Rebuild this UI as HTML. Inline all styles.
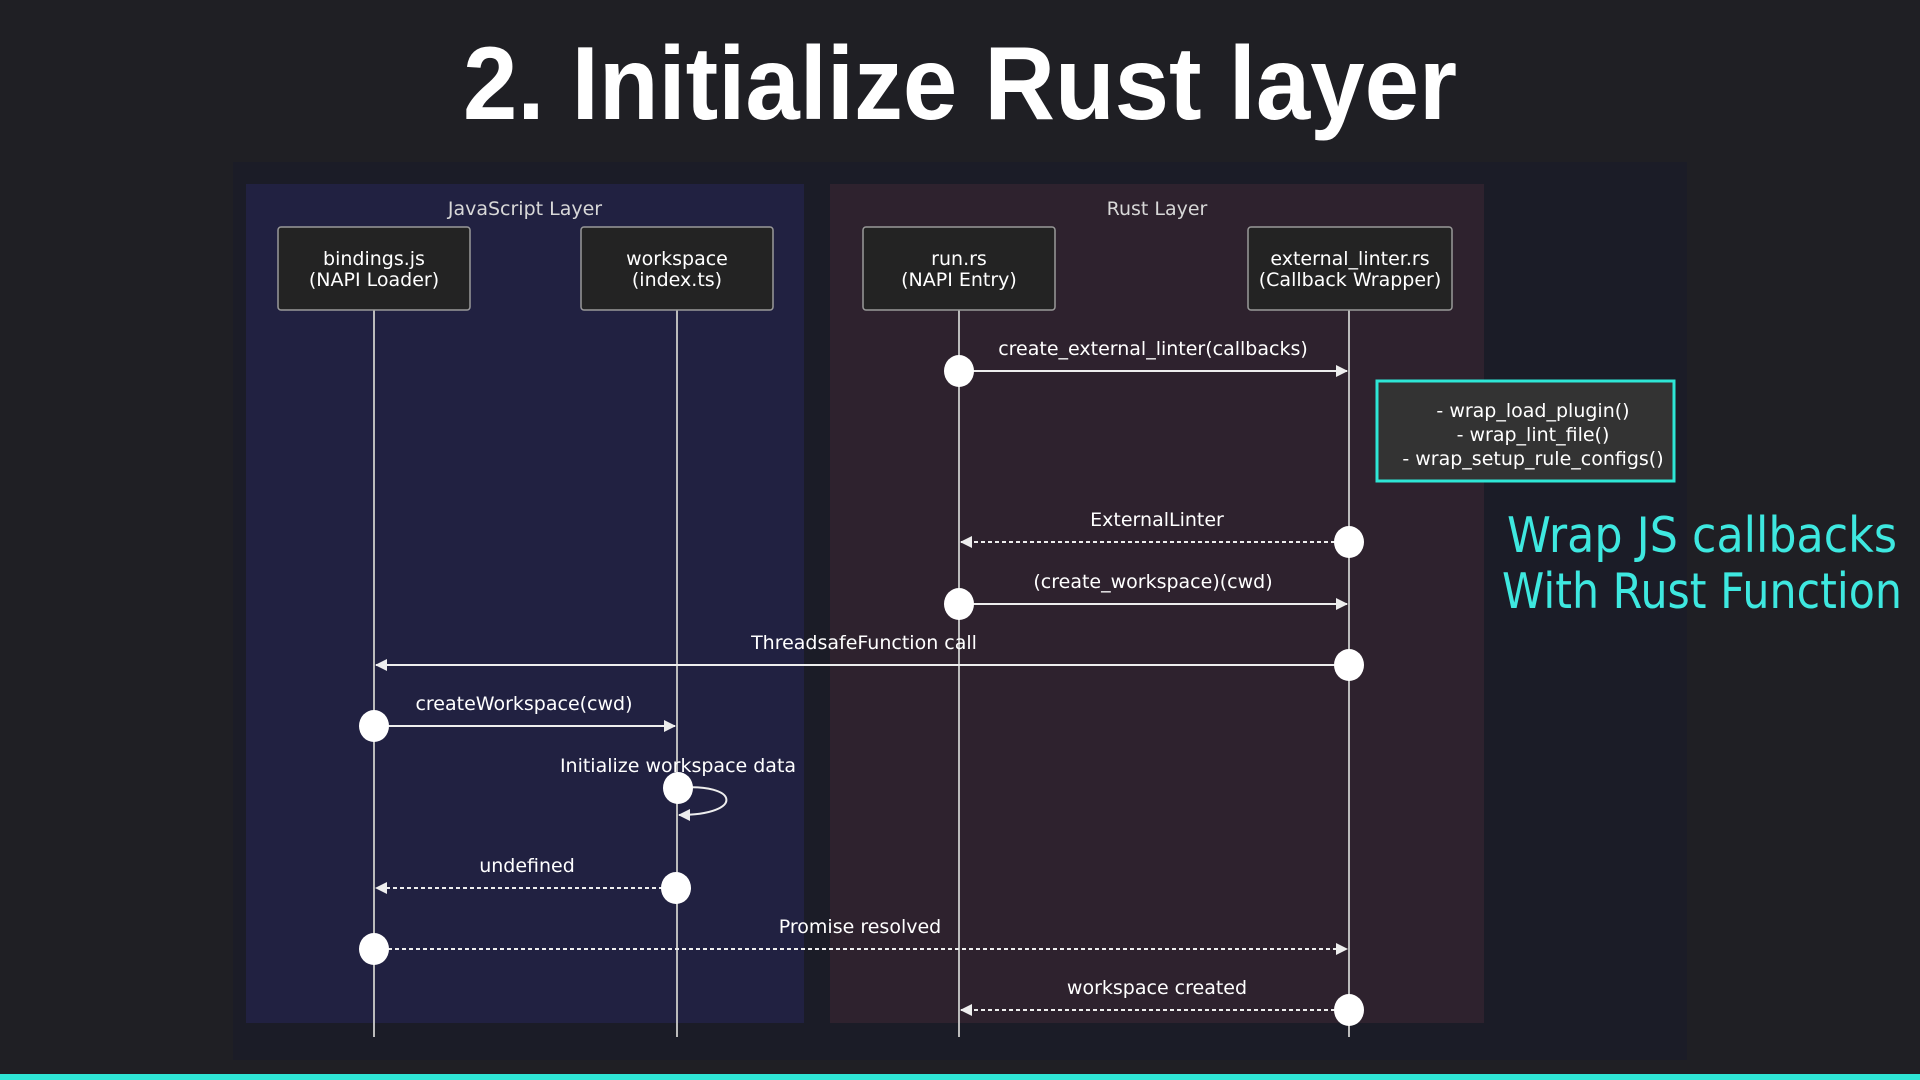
<!DOCTYPE html>
<html><head><meta charset="utf-8"><style>
html,body{margin:0;padding:0;background:#1f1f24;width:1920px;height:1080px;overflow:hidden}
svg{display:block}
text{font-family:"DejaVu Sans","Liberation Sans",sans-serif}
</style></head><body>
<svg width="1920" height="1080" viewBox="0 0 1920 1080" xmlns="http://www.w3.org/2000/svg">
<defs>
<marker id="ah" markerWidth="12" markerHeight="12" refX="11" refY="6" orient="auto" markerUnits="userSpaceOnUse">
<path d="M0,0 L12,6 L0,12 z" fill="#eeeeee"/></marker>
</defs>
<rect width="1920" height="1080" fill="#1f1f24"/>
<text x="960" y="119" text-anchor="middle" font-family="Liberation Sans, sans-serif" font-weight="bold" font-size="104" fill="#ffffff" textLength="994" lengthAdjust="spacingAndGlyphs" style="font-family:'Liberation Sans',sans-serif">2. Initialize Rust layer</text>
<rect x="233" y="162" width="1454" height="898" fill="#1b1c27"/>
<rect x="246" y="184" width="558" height="839" fill="#212141"/>
<rect x="830" y="184" width="654" height="839" fill="#2e222e"/>
<g font-size="19" fill="#d8d8d8" text-anchor="middle">
<text x="525" y="215">JavaScript Layer</text>
<text x="1157" y="215">Rust Layer</text>
</g>
<g stroke="#bbbbbb" stroke-width="2">
<line x1="374" y1="310" x2="374" y2="1037"/>
<line x1="677" y1="310" x2="677" y2="1037"/>
<line x1="959" y1="310" x2="959" y2="1037"/>
<line x1="1349" y1="310" x2="1349" y2="1037"/>
</g>
<g fill="#232323" stroke="#999" stroke-width="1.5">
<rect x="278" y="227" width="192" height="83" rx="3"/>
<rect x="581" y="227" width="192" height="83" rx="3"/>
<rect x="863" y="227" width="192" height="83" rx="3"/>
<rect x="1248" y="227" width="204" height="83" rx="3"/>
</g>
<g font-size="19" fill="#ffffff" text-anchor="middle">
<text x="374" y="265">bindings.js</text><text x="374" y="286">(NAPI Loader)</text>
<text x="677" y="265">workspace</text><text x="677" y="286">(index.ts)</text>
<text x="959" y="265">run.rs</text><text x="959" y="286">(NAPI Entry)</text>
<text x="1350" y="265">external_linter.rs</text><text x="1350" y="286">(Callback Wrapper)</text>
</g>
<g stroke="#eeeeee" stroke-width="2" fill="none">
<line x1="959" y1="371" x2="1347" y2="371" marker-end="url(#ah)"/>
<line x1="1349" y1="542" x2="961" y2="542" stroke-dasharray="4,3" marker-end="url(#ah)"/>
<line x1="959" y1="604" x2="1347" y2="604" marker-end="url(#ah)"/>
<line x1="1349" y1="665" x2="376" y2="665" marker-end="url(#ah)"/>
<line x1="374" y1="726" x2="675" y2="726" marker-end="url(#ah)"/>
<path d="M677,788 C740,782 745,815 679,815" marker-end="url(#ah)"/>
<line x1="677" y1="888" x2="376" y2="888" stroke-dasharray="4,3" marker-end="url(#ah)"/>
<line x1="374" y1="949" x2="1347" y2="949" stroke-dasharray="4,3" marker-end="url(#ah)"/>
<line x1="1349" y1="1010" x2="961" y2="1010" stroke-dasharray="4,3" marker-end="url(#ah)"/>
</g>
<g fill="#ffffff">
<ellipse cx="959" cy="371" rx="15" ry="16"/>
<ellipse cx="1349" cy="542" rx="15" ry="16"/>
<ellipse cx="959" cy="604" rx="15" ry="16"/>
<ellipse cx="1349" cy="665" rx="15" ry="16"/>
<ellipse cx="374" cy="726" rx="15" ry="16"/>
<ellipse cx="678" cy="788" rx="15" ry="16"/>
<ellipse cx="676" cy="888" rx="15" ry="16"/>
<ellipse cx="374" cy="949" rx="15" ry="16"/>
<ellipse cx="1349" cy="1010" rx="15" ry="16"/>
</g>
<g font-size="19" fill="#ffffff" text-anchor="middle">
<text x="1153" y="355">create_external_linter(callbacks)</text>
<text x="1157" y="526">ExternalLinter</text>
<text x="1153" y="588">(create_workspace)(cwd)</text>
<text x="864" y="649">ThreadsafeFunction call</text>
<text x="524" y="710">createWorkspace(cwd)</text>
<text x="678" y="772">Initialize workspace data</text>
<text x="527" y="872">undefined</text>
<text x="860" y="933">Promise resolved</text>
<text x="1157" y="994">workspace created</text>
</g>
<rect x="1377" y="381" width="297" height="100" fill="#333333" stroke="#2ee6d6" stroke-width="3"/>
<g font-size="19" fill="#ffffff" text-anchor="middle">
<text x="1533" y="417">- wrap_load_plugin()</text>
<text x="1533" y="441">- wrap_lint_file()</text>
<text x="1533" y="465">- wrap_setup_rule_configs()</text>
</g>
<g font-size="49" fill="#3ee8e0" text-anchor="middle" style="font-family:'Liberation Sans',sans-serif">
<text x="1702" y="552" textLength="390" lengthAdjust="spacingAndGlyphs">Wrap JS callbacks</text>
<text x="1702" y="608" textLength="400" lengthAdjust="spacingAndGlyphs">With Rust Function</text>
</g>
<rect x="0" y="1074" width="1920" height="6" fill="#2ee6d6"/>
</svg>
</body></html>
